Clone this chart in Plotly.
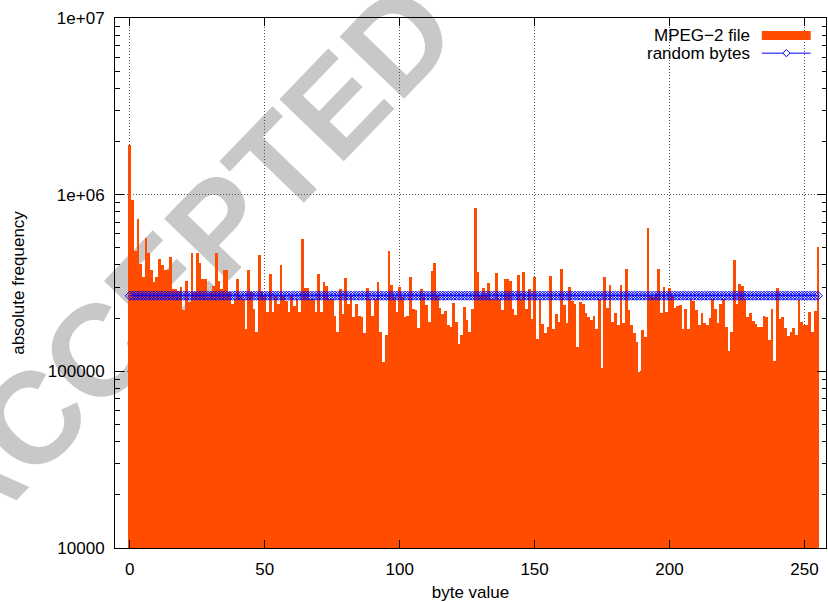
import plotly.graph_objects as go

# ---------------- data ----------------
byte_values = list(range(256))

# MPEG-2 file byte histogram, in thousands of occurrences
mpeg2_counts_k = [
    1920, 930, 481, 733, 405, 340, 567, 467, 374, 319,
    343, 432, 401, 374, 374, 445, 292, 292, 285, 301,
    221, 323, 246, 467, 280, 467, 413, 333, 333, 260,
    280, 305, 467, 323, 292, 374, 374, 280, 240, 257,
    333, 268, 257, 174, 374, 280, 226, 167, 455, 280,
    268, 216, 354, 216, 268, 240, 401, 268, 250, 216,
    268, 233, 257, 216, 560, 298, 298, 257, 257, 216,
    357, 216, 319, 305, 257, 257, 207, 167, 292, 211,
    338, 240, 268, 202, 240, 207, 202, 165, 298, 257,
    207, 257, 319, 167, 113, 160, 481, 310, 263, 216,
    300, 263, 202, 207, 340, 226, 222, 176, 292, 263,
    236, 190, 370, 410, 268, 229, 211, 220, 182, 178,
    244, 191, 143, 160, 231, 194, 167, 226, 837, 367,
    268, 298, 268, 317, 257, 257, 360, 257, 222, 333,
    333, 323, 226, 209, 350, 257, 363, 226, 292, 198,
    343, 153, 257, 186, 165, 178, 347, 174, 211, 190,
    378, 236, 188, 300, 251, 239, 138, 246, 239, 214,
    202, 196, 205, 174, 257, 104, 340, 228, 307, 191,
    214, 184, 307, 187, 378, 222, 184, 164, 146, 99,
    172, 157, 646, 270, 265, 275, 378, 214, 300, 216,
    296, 268, 229, 234, 236, 174, 226, 174, 257, 250,
    222, 182, 213, 188, 182, 201, 257, 226, 187, 239,
    257, 178, 131, 167, 427, 239, 312, 305, 257, 202,
    214, 192, 186, 178, 178, 207, 204, 151, 226, 114,
    298, 198, 204, 176, 158, 167, 176, 161, 254, 191,
    182, 182, 216, 167, 219, 506,
]
mpeg2_counts = [v * 1000 for v in mpeg2_counts_k]

# random bytes: flat level
random_level = 268000
random_counts = [random_level for _ in byte_values]

y_tick_vals = [1e4, 1e5, 1e6, 1e7]
y_tick_text = ["10000", "100000", "1e+06", "1e+07"]
y_minor_vals = [m * 10 ** d for d in (4, 5, 6) for m in range(2, 10)]
x_tick_vals = [0, 50, 100, 150, 200, 250]

BAR_COLOR = "#ff4c00"
LINE_COLOR = "#0000ff"
FONT = "Liberation Sans, Arial, Helvetica, sans-serif"

fig = go.Figure()
fig.add_trace(go.Bar(
    x=byte_values, y=mpeg2_counts, width=1.0,
    marker=dict(color=BAR_COLOR, line=dict(width=0)),
    name="MPEG\u22122 file", showlegend=False,
))
fig.add_trace(go.Scatter(
    x=byte_values, y=random_counts, mode="lines+markers",
    line=dict(color=LINE_COLOR, width=1),
    marker=dict(symbol="diamond-open", size=7, color=LINE_COLOR, line=dict(width=1, color=LINE_COLOR)),
    name="random bytes", showlegend=False,
))

# plot-area geometry in pixels (for the hand-drawn gnuplot-style legend)
L, R, T, B = 115, 827, 18, 550
W, H = R - L, B - T
px = lambda x: (x - L) / W
py = lambda y: (B - y) / H

shapes = []
annotations = []

# watermark (drawn below the data)
shapes.append(dict(
    type="rect", xref="paper", yref="paper", layer="below",
    x0=px(172), x1=px(176), y0=py(258), y1=py(254),
    line=dict(width=0), fillcolor="rgba(0,0,0,0)",
    label=dict(text="ACCEPTED", textangle=-46, textposition="middle center",
               font=dict(family=FONT, size=130, color="#c8c8c8", weight="bold")),
))

# legend row 1: MPEG-2 file
annotations.append(dict(xref="paper", yref="paper", x=px(753), y=py(35.7), xanchor="right", yanchor="middle",
                        text="MPEG\u22122 file", showarrow=False, font=dict(family=FONT, size=17, color="black")))
shapes.append(dict(type="rect", xref="paper", yref="paper", x0=px(762.7), x1=px(811.7), y0=py(40), y1=py(31),
                   fillcolor=BAR_COLOR, line=dict(width=0), layer="above"))
# legend row 2: random bytes
annotations.append(dict(xref="paper", yref="paper", x=px(753), y=py(53.3), xanchor="right", yanchor="middle",
                        text="random bytes", showarrow=False, font=dict(family=FONT, size=17, color="black")))
shapes.append(dict(type="line", xref="paper", yref="paper", x0=px(762.7), x1=px(811.7), y0=py(53.3), y1=py(53.3),
                   line=dict(color=LINE_COLOR, width=1), layer="above"))
cx, cy, d = 787.3, 53.3, 3.6
shapes.append(dict(type="path", xref="paper", yref="paper", layer="above",
                   path=f"M {px(cx)},{py(cy-d)} L {px(cx+d)},{py(cy)} L {px(cx)},{py(cy+d)} L {px(cx-d)},{py(cy)} Z",
                   line=dict(color=LINE_COLOR, width=1), fillcolor="white"))

axis_common = dict(
    showline=True, linecolor="black", linewidth=1, mirror="ticks",
    ticks="inside", tickcolor="black", tickwidth=1,
    showgrid=True, gridcolor="#555555", griddash="1px,2px", gridwidth=1,
    zeroline=False, tickfont=dict(family=FONT, size=17, color="black"),
)

fig.update_layout(
    width=828, height=602,
    margin=dict(l=L, r=828 - R, t=T, b=602 - B),
    paper_bgcolor="white", plot_bgcolor="rgba(0,0,0,0)",
    bargap=0, showlegend=False,
    font=dict(family=FONT, size=17, color="black"),
    xaxis=dict(range=[-5.5, 258], tickvals=x_tick_vals, ticklen=8, ticklabelstandoff=6,
               title=dict(text="byte value", font=dict(family=FONT, size=17), standoff=10),
               **axis_common),
    yaxis=dict(type="log", range=[4, 7], tickvals=y_tick_vals, ticktext=y_tick_text, ticklen=9,
               ticklabelstandoff=6,
               minor=dict(tickvals=y_minor_vals, ticks="inside", ticklen=4.5, tickcolor="black", showgrid=False),
               title=dict(text="absolute frequency", font=dict(family=FONT, size=17), standoff=18),
               **axis_common),
    shapes=shapes, annotations=annotations,
)

fig.write_html("out.html")
